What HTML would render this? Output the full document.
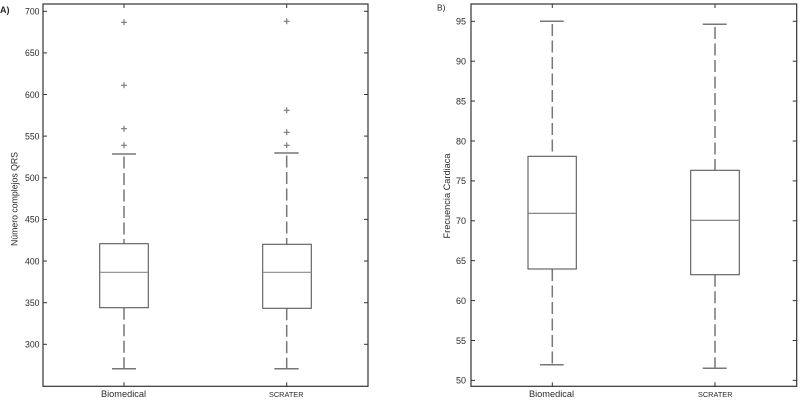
<!DOCTYPE html>
<html>
<head>
<meta charset="utf-8">
<style>
  html,body{margin:0;padding:0;background:#fff;}
  svg{display:block;}
  text{font-family:"Liberation Sans", Arial, sans-serif;fill:#2a2a2a;}
</style>
</head>
<body>
<svg width="800" height="403" viewBox="0 0 800 403" xmlns="http://www.w3.org/2000/svg">
  <rect x="0" y="0" width="800" height="403" fill="#fff"/>

  <!-- ================= Panel A ================= -->
  <text x="0" y="13" font-size="9" font-weight="bold">A)</text>
  <rect x="43" y="4" width="325" height="382.3" fill="none" stroke="#333" stroke-width="1.2"/>
  <g stroke="#333" stroke-width="1">
    <line x1="43" y1="11.3" x2="47" y2="11.3"/><line x1="364" y1="11.3" x2="368" y2="11.3"/>
    <line x1="43" y1="52.9" x2="47" y2="52.9"/><line x1="364" y1="52.9" x2="368" y2="52.9"/>
    <line x1="43" y1="94.5" x2="47" y2="94.5"/><line x1="364" y1="94.5" x2="368" y2="94.5"/>
    <line x1="43" y1="136.1" x2="47" y2="136.1"/><line x1="364" y1="136.1" x2="368" y2="136.1"/>
    <line x1="43" y1="177.8" x2="47" y2="177.8"/><line x1="364" y1="177.8" x2="368" y2="177.8"/>
    <line x1="43" y1="219.4" x2="47" y2="219.4"/><line x1="364" y1="219.4" x2="368" y2="219.4"/>
    <line x1="43" y1="261.0" x2="47" y2="261.0"/><line x1="364" y1="261.0" x2="368" y2="261.0"/>
    <line x1="43" y1="302.7" x2="47" y2="302.7"/><line x1="364" y1="302.7" x2="368" y2="302.7"/>
    <line x1="43" y1="344.3" x2="47" y2="344.3"/><line x1="364" y1="344.3" x2="368" y2="344.3"/>
    <line x1="124" y1="4" x2="124" y2="8"/><line x1="124" y1="382.3" x2="124" y2="386.3"/>
    <line x1="286.7" y1="4" x2="286.7" y2="8"/><line x1="286.7" y1="382.3" x2="286.7" y2="386.3"/>
  </g>
  <g font-size="9" text-anchor="end">
    <text x="39.5" y="14.6" textLength="14.5" lengthAdjust="spacingAndGlyphs">700</text>
    <text x="39.5" y="56.2" textLength="14.5" lengthAdjust="spacingAndGlyphs">650</text>
    <text x="39.5" y="97.8" textLength="14.5" lengthAdjust="spacingAndGlyphs">600</text>
    <text x="39.5" y="139.4" textLength="14.5" lengthAdjust="spacingAndGlyphs">550</text>
    <text x="39.5" y="181.1" textLength="14.5" lengthAdjust="spacingAndGlyphs">500</text>
    <text x="39.5" y="222.7" textLength="14.5" lengthAdjust="spacingAndGlyphs">450</text>
    <text x="39.5" y="264.3" textLength="14.5" lengthAdjust="spacingAndGlyphs">400</text>
    <text x="39.5" y="306.0" textLength="14.5" lengthAdjust="spacingAndGlyphs">350</text>
    <text x="39.5" y="347.6" textLength="14.5" lengthAdjust="spacingAndGlyphs">300</text>
  </g>
  <text transform="translate(17.5,199) rotate(-90)" font-size="9" text-anchor="middle" textLength="94" lengthAdjust="spacingAndGlyphs">Número complejos QRS</text>
  <text x="101" y="397" font-size="9.2" textLength="45" lengthAdjust="spacingAndGlyphs">Biomedical</text>
  <text x="269" y="397" font-size="7.6" textLength="34.5" lengthAdjust="spacingAndGlyphs">SCRATER</text>

  <!-- Box A Biomedical -->
  <g stroke="#777" stroke-width="1.5" fill="none">
    <line x1="124" y1="156.5" x2="124" y2="243.7" stroke-dasharray="12,4.5"/>
    <line x1="124" y1="307.7" x2="124" y2="368.7" stroke-dasharray="12,4.5"/>
    <line x1="112" y1="154" x2="136" y2="154"/>
    <line x1="112" y1="368.7" x2="136" y2="368.7"/>
  </g>
  <rect x="99.7" y="243.7" width="48.6" height="64" fill="none" stroke="#5a5a5a" stroke-width="1.1"/>
  <line x1="99.7" y1="272.3" x2="148.3" y2="272.3" stroke="#8a8a8a" stroke-width="1.1"/>
  <!-- Box A SCRATER -->
  <g stroke="#777" stroke-width="1.5" fill="none">
    <line x1="286.7" y1="155.5" x2="286.7" y2="244.3" stroke-dasharray="12,4.5"/>
    <line x1="286.7" y1="308.3" x2="286.7" y2="368.7" stroke-dasharray="12,4.5"/>
    <line x1="274.3" y1="153" x2="298.7" y2="153"/>
    <line x1="274.3" y1="368.7" x2="298.7" y2="368.7"/>
  </g>
  <rect x="262.7" y="244.3" width="48.6" height="64" fill="none" stroke="#5a5a5a" stroke-width="1.1"/>
  <line x1="262.7" y1="272.3" x2="311.3" y2="272.3" stroke="#8a8a8a" stroke-width="1.1"/>
  <!-- outliers A -->
  <g stroke="#7a7a7a" stroke-width="1.2">
    <path d="M121 22.3h6M124 19.3v6"/>
    <path d="M121 85.3h6M124 82.3v6"/>
    <path d="M121 128.7h6M124 125.7v6"/>
    <path d="M121 145.3h6M124 142.3v6"/>
    <path d="M283.7 21.3h6M286.7 18.3v6"/>
    <path d="M283.7 110.3h6M286.7 107.3v6"/>
    <path d="M283.7 132.3h6M286.7 129.3v6"/>
    <path d="M283.7 145.3h6M286.7 142.3v6"/>
  </g>

  <!-- ================= Panel B ================= -->
  <text x="437" y="10.5" font-size="8.5">B)</text>
  <rect x="471" y="4" width="325.7" height="382.3" fill="none" stroke="#333" stroke-width="1.2"/>
  <g stroke="#333" stroke-width="1">
    <line x1="471" y1="21.3" x2="475" y2="21.3"/><line x1="792.7" y1="21.3" x2="796.7" y2="21.3"/>
    <line x1="471" y1="61.2" x2="475" y2="61.2"/><line x1="792.7" y1="61.2" x2="796.7" y2="61.2"/>
    <line x1="471" y1="101.1" x2="475" y2="101.1"/><line x1="792.7" y1="101.1" x2="796.7" y2="101.1"/>
    <line x1="471" y1="141.0" x2="475" y2="141.0"/><line x1="792.7" y1="141.0" x2="796.7" y2="141.0"/>
    <line x1="471" y1="180.9" x2="475" y2="180.9"/><line x1="792.7" y1="180.9" x2="796.7" y2="180.9"/>
    <line x1="471" y1="220.8" x2="475" y2="220.8"/><line x1="792.7" y1="220.8" x2="796.7" y2="220.8"/>
    <line x1="471" y1="260.7" x2="475" y2="260.7"/><line x1="792.7" y1="260.7" x2="796.7" y2="260.7"/>
    <line x1="471" y1="300.6" x2="475" y2="300.6"/><line x1="792.7" y1="300.6" x2="796.7" y2="300.6"/>
    <line x1="471" y1="340.5" x2="475" y2="340.5"/><line x1="792.7" y1="340.5" x2="796.7" y2="340.5"/>
    <line x1="471" y1="380.4" x2="475" y2="380.4"/><line x1="792.7" y1="380.4" x2="796.7" y2="380.4"/>
    <line x1="552.3" y1="4" x2="552.3" y2="8"/><line x1="552.3" y1="382.3" x2="552.3" y2="386.3"/>
    <line x1="715" y1="4" x2="715" y2="8"/><line x1="715" y1="382.3" x2="715" y2="386.3"/>
  </g>
  <g font-size="9" text-anchor="end">
    <text x="466" y="24.6" textLength="10" lengthAdjust="spacingAndGlyphs">95</text>
    <text x="466" y="64.5" textLength="10" lengthAdjust="spacingAndGlyphs">90</text>
    <text x="466" y="104.4" textLength="10" lengthAdjust="spacingAndGlyphs">85</text>
    <text x="466" y="144.3" textLength="10" lengthAdjust="spacingAndGlyphs">80</text>
    <text x="466" y="184.2" textLength="10" lengthAdjust="spacingAndGlyphs">75</text>
    <text x="466" y="224.1" textLength="10" lengthAdjust="spacingAndGlyphs">70</text>
    <text x="466" y="264.0" textLength="10" lengthAdjust="spacingAndGlyphs">65</text>
    <text x="466" y="303.9" textLength="10" lengthAdjust="spacingAndGlyphs">60</text>
    <text x="466" y="343.8" textLength="10" lengthAdjust="spacingAndGlyphs">55</text>
    <text x="466" y="383.7" textLength="10" lengthAdjust="spacingAndGlyphs">50</text>
  </g>
  <text transform="translate(450,196) rotate(-90)" font-size="9" text-anchor="middle" textLength="85" lengthAdjust="spacingAndGlyphs">Frecuencia Cardiaca</text>
  <text x="529" y="397" font-size="9.2" textLength="45" lengthAdjust="spacingAndGlyphs">Biomedical</text>
  <text x="698" y="397" font-size="7.6" textLength="34.5" lengthAdjust="spacingAndGlyphs">SCRATER</text>

  <!-- Box B Biomedical -->
  <g stroke="#777" stroke-width="1.5" fill="none">
    <line x1="552.3" y1="24" x2="552.3" y2="156.3" stroke-dasharray="12,4.5"/>
    <line x1="552.3" y1="269" x2="552.3" y2="364.7" stroke-dasharray="12,4.5"/>
    <line x1="540" y1="21.3" x2="563.7" y2="21.3"/>
    <line x1="540" y1="364.7" x2="563.7" y2="364.7"/>
  </g>
  <rect x="528" y="156.3" width="48.3" height="112.7" fill="none" stroke="#5a5a5a" stroke-width="1.1"/>
  <line x1="528" y1="213.3" x2="576.3" y2="213.3" stroke="#777" stroke-width="1.1"/>
  <!-- Box B SCRATER -->
  <g stroke="#777" stroke-width="1.5" fill="none">
    <line x1="715" y1="27" x2="715" y2="170.3" stroke-dasharray="12,4.5"/>
    <line x1="715" y1="274.7" x2="715" y2="368.3" stroke-dasharray="12,4.5"/>
    <line x1="702.7" y1="24.3" x2="726.7" y2="24.3"/>
    <line x1="702.7" y1="368.3" x2="726.7" y2="368.3"/>
  </g>
  <rect x="690.7" y="170.3" width="48.6" height="104.4" fill="none" stroke="#5a5a5a" stroke-width="1.1"/>
  <line x1="690.7" y1="220.3" x2="739.3" y2="220.3" stroke="#777" stroke-width="1.1"/>
</svg>
</body>
</html>
